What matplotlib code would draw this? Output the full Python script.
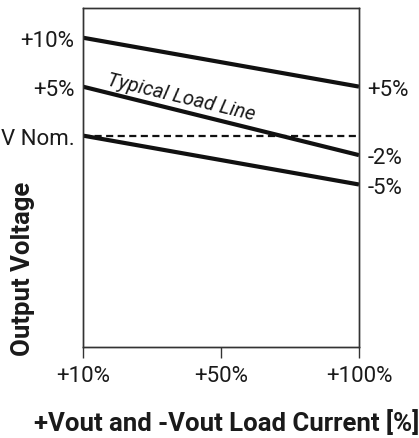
import matplotlib
matplotlib.use("Agg")
from matplotlib import pyplot as plt

# load positions along the x axis and their labels
load_labels = ["+10%", "+50%", "+100%"]
load_pos = [0, 1, 2]

# output voltage deviation (%) at +10% and +100% load
upper_line = [10, 5]
typical_line = [5, -2]
lower_line = [0, -5]
nominal_line = [0, 0]

left_ticks = [10, 5, 0]
left_labels = ["+10%", "+5%", "V Nom."]
right_ticks = [5, -2, -5]
right_labels = ["+5%", "-2%", "-5%"]

tick_font = dict(family="Roboto", weight="normal", color="#1a1a1a")
bold_cond = dict(family="Roboto", stretch="condensed", weight="bold", color="#1a1a1a")

fig = plt.figure(figsize=(4.19, 4.39), dpi=100)
ax = fig.add_axes([0.1974, 0.2073, 0.6594, 0.7715])

ends = [load_pos[0], load_pos[-1]]
for vals in (upper_line, typical_line, lower_line):
    ax.plot(ends, vals, color="#111111", lw=3.0, solid_capstyle="butt")
ax.plot(ends, nominal_line, color="#111111", lw=1.6, dashes=(3.2, 2.0))

ax.set_xlim(load_pos[0], load_pos[-1])
ax.set_ylim(-21.6, 13)

ax.set_xticks(load_pos)
ax.set_xticklabels(load_labels, fontsize=16, **tick_font)
ax.tick_params(axis="x", length=8, width=1, pad=5, color="#333333")

ax.set_yticks(left_ticks)
ax.set_yticklabels(left_labels, fontsize=16, **tick_font)
ax.tick_params(axis="y", length=0, pad=6)

ax2 = ax.twinx()
ax2.set_ylim(ax.get_ylim())
ax2.set_yticks(right_ticks)
ax2.set_yticklabels(right_labels, fontsize=16, **tick_font)
ax2.tick_params(axis="y", length=0, pad=6)

for a in (ax, ax2):
    for s in a.spines.values():
        s.set_linewidth(1.0)
        s.set_color("#333333")

ax.text(0.71, 3.95, "Typical Load Line", rotation=-13.5, rotation_mode="anchor",
        ha="center", va="center", fontsize=14.5, style="italic", **tick_font)

fig.text(227 / 419, 1 - 423 / 439, "+Vout and -Vout Load Current [%]",
         ha="center", va="center", fontsize=18.5, **bold_cond)
fig.text(23 / 419, 1 - 269 / 439, "Output Voltage", rotation=90,
         ha="center", va="center", fontsize=18.5, **bold_cond)

fig.savefig("out.png", dpi=100)
